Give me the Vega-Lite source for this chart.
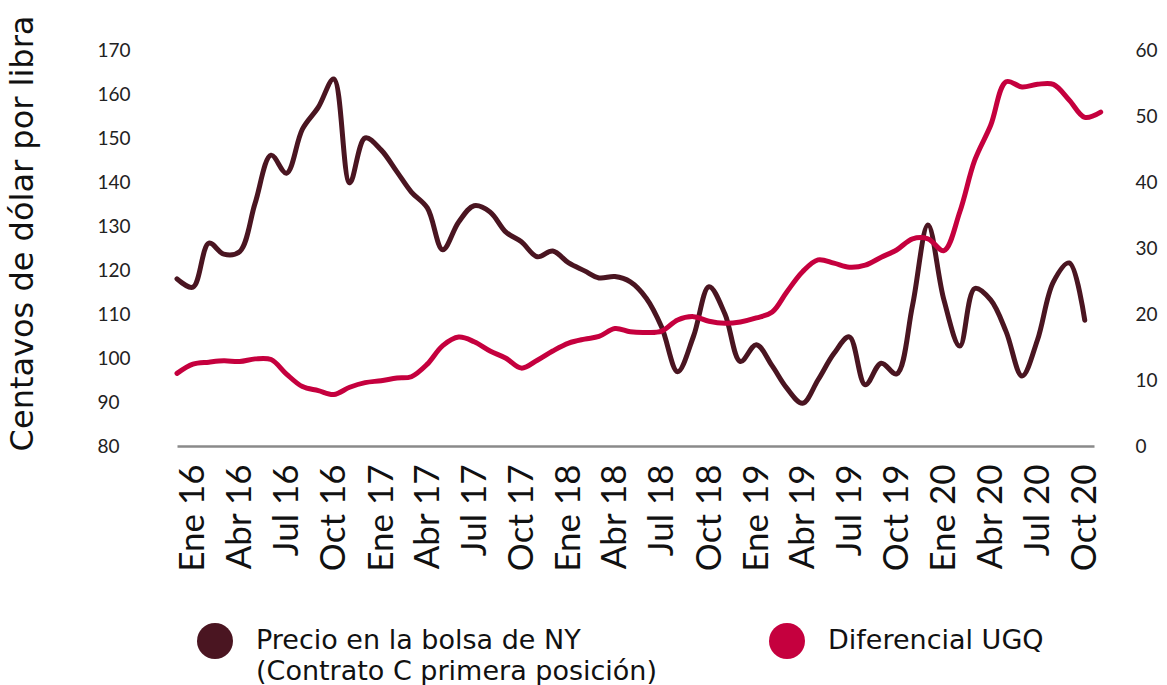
{
  "$schema": "https://vega.github.io/schema/vega-lite/v6.json",
  "autosize": {"type": "none"},
  "width": 917,
  "height": 396,
  "padding": {"left": 177, "top": 50, "right": 73, "bottom": 239},
  "background": "#ffffff",
  "config": {
    "view": {"stroke": null},
    "style": {"guide-label": {"lineHeight": 31}}
  },
  "data": {
    "values": [
      {"fecha": "2015-12-01", "precio": 118.0, "diferencial": 11.0},
      {"fecha": "2016-01-01", "precio": 116.1, "diferencial": 12.4},
      {"fecha": "2016-02-01", "precio": 126.1, "diferencial": 12.7},
      {"fecha": "2016-03-01", "precio": 123.6, "diferencial": 12.9},
      {"fecha": "2016-04-01", "precio": 124.2, "diferencial": 12.8},
      {"fecha": "2016-05-01", "precio": 135.2, "diferencial": 13.2},
      {"fecha": "2016-06-01", "precio": 146.1, "diferencial": 13.1},
      {"fecha": "2016-07-01", "precio": 142.0, "diferencial": 10.9},
      {"fecha": "2016-08-01", "precio": 152.0, "diferencial": 9.0},
      {"fecha": "2016-09-01", "precio": 157.0, "diferencial": 8.4},
      {"fecha": "2016-10-01", "precio": 163.4, "diferencial": 7.8},
      {"fecha": "2016-11-01", "precio": 139.8, "diferencial": 8.9},
      {"fecha": "2016-12-01", "precio": 150.0, "diferencial": 9.6},
      {"fecha": "2017-01-01", "precio": 147.3, "diferencial": 9.9},
      {"fecha": "2017-02-01", "precio": 142.3, "diferencial": 10.3},
      {"fecha": "2017-03-01", "precio": 137.7, "diferencial": 10.5},
      {"fecha": "2017-04-01", "precio": 134.1, "diferencial": 12.4},
      {"fecha": "2017-05-01", "precio": 124.6, "diferencial": 15.2},
      {"fecha": "2017-06-01", "precio": 130.9, "diferencial": 16.5},
      {"fecha": "2017-07-01", "precio": 134.6, "diferencial": 15.8},
      {"fecha": "2017-08-01", "precio": 133.2, "diferencial": 14.4},
      {"fecha": "2017-09-01", "precio": 128.6, "diferencial": 13.3},
      {"fecha": "2017-10-01", "precio": 126.4, "diferencial": 11.8},
      {"fecha": "2017-11-01", "precio": 123.0, "diferencial": 13.0},
      {"fecha": "2017-12-01", "precio": 124.3, "diferencial": 14.4},
      {"fecha": "2018-01-01", "precio": 121.6, "diferencial": 15.6},
      {"fecha": "2018-02-01", "precio": 119.8, "diferencial": 16.2},
      {"fecha": "2018-03-01", "precio": 118.2, "diferencial": 16.6},
      {"fecha": "2018-04-01", "precio": 118.5, "diferencial": 17.8},
      {"fecha": "2018-05-01", "precio": 117.3, "diferencial": 17.3},
      {"fecha": "2018-06-01", "precio": 113.6, "diferencial": 17.2},
      {"fecha": "2018-07-01", "precio": 107.0, "diferencial": 17.4},
      {"fecha": "2018-08-01", "precio": 96.9, "diferencial": 19.1},
      {"fecha": "2018-09-01", "precio": 105.0, "diferencial": 19.6},
      {"fecha": "2018-10-01", "precio": 116.2, "diferencial": 18.9},
      {"fecha": "2018-11-01", "precio": 110.0, "diferencial": 18.6},
      {"fecha": "2018-12-01", "precio": 99.2, "diferencial": 18.8},
      {"fecha": "2019-01-01", "precio": 103.0, "diferencial": 19.4},
      {"fecha": "2019-02-01", "precio": 98.2, "diferencial": 20.3},
      {"fecha": "2019-03-01", "precio": 93.2, "diferencial": 23.3},
      {"fecha": "2019-04-01", "precio": 89.7, "diferencial": 26.4},
      {"fecha": "2019-05-01", "precio": 95.0, "diferencial": 28.2},
      {"fecha": "2019-06-01", "precio": 101.0, "diferencial": 27.7},
      {"fecha": "2019-07-01", "precio": 104.8, "diferencial": 27.1},
      {"fecha": "2019-08-01", "precio": 93.9, "diferencial": 27.4},
      {"fecha": "2019-09-01", "precio": 98.8, "diferencial": 28.6},
      {"fecha": "2019-10-01", "precio": 96.4, "diferencial": 29.7},
      {"fecha": "2019-11-01", "precio": 112.0, "diferencial": 31.4},
      {"fecha": "2019-12-01", "precio": 130.2, "diferencial": 31.4},
      {"fecha": "2020-01-01", "precio": 113.2, "diferencial": 29.6},
      {"fecha": "2020-02-01", "precio": 102.7, "diferencial": 35.5},
      {"fecha": "2020-03-01", "precio": 115.8, "diferencial": 43.3},
      {"fecha": "2020-04-01", "precio": 113.2, "diferencial": 48.6},
      {"fecha": "2020-05-01", "precio": 106.0, "diferencial": 55.2},
      {"fecha": "2020-06-01", "precio": 95.9, "diferencial": 54.4},
      {"fecha": "2020-07-01", "precio": 104.1, "diferencial": 54.8},
      {"fecha": "2020-08-01", "precio": 117.3, "diferencial": 54.8},
      {"fecha": "2020-09-01", "precio": 121.6, "diferencial": 52.4},
      {"fecha": "2020-10-01", "precio": 108.6, "diferencial": 49.8},
      {"fecha": "2020-11-01", "precio": null, "diferencial": 50.6}
    ]
  },
  "encoding": {
    "x": {
      "field": "fecha",
      "type": "temporal",
      "scale": {"type": "utc", "domain": [1448928000000, 1603065600000]},
      "axis": {
        "title": null,
        "tickCount": {"interval": "month", "step": 3},
        "labelExpr": "['Ene','Abr','Jul','Oct'][floor(utcmonth(datum.value)/3)] + ' ' + utcFormat(datum.value, '%y')",
        "labelAngle": -90,
        "labelFont": "Lato",
        "labelFontSize": 35,
        "labelColor": "#111111",
        "labelPadding": 18,
        "labelOverlap": false,
        "labelFlush": false,
        "labelBound": false,
        "ticks": false,
        "tickSize": 0,
        "grid": false,
        "domain": true,
        "domainColor": "#8a8a8a",
        "domainWidth": 2.5
      }
    }
  },
  "layer": [
    {
      "mark": {"type": "line", "interpolate": "catmull-rom", "strokeWidth": 5, "strokeCap": "round", "strokeJoin": "round"},
      "encoding": {
        "y": {
          "field": "precio",
          "type": "quantitative",
          "scale": {"domain": [80, 170], "zero": false, "nice": false},
          "axis": {
            "orient": "left",
            "title": "Centavos de dólar por libra",
            "titleFont": "DejaVu Sans",
            "titleFontSize": 32,
            "titleFontWeight": "normal",
            "titleColor": "#111111",
            "titlePadding": 58,
            "titleY": 183,
            "values": [80, 90, 100, 110, 120, 130, 140, 150, 160, 170],
            "labelAlign": "left",
            "labelPadding": 80,
            "labelFont": "Lato",
            "labelFontSize": 19,
            "labelColor": "#222222",
            "ticks": false,
            "tickSize": 0,
            "domain": false,
            "grid": false
          }
        },
        "color": {
          "datum": "Precio en la bolsa de NY",
          "type": "nominal",
          "scale": {"domain": ["Precio en la bolsa de NY", "Diferencial UGQ"], "range": ["#4a1521", "#c5003e"]},
          "legend": {
            "orient": "none",
            "legendX": 20,
            "legendY": 573,
            "direction": "horizontal",
            "columns": 2,
            "columnPadding": 112,
            "title": null,
            "symbolType": "circle",
            "symbolSize": 1296,
            "symbolStrokeWidth": 0,
            "symbolOpacity": 1,
            "labelFont": "DejaVu Sans",
            "labelFontSize": 27,
            "labelColor": "#111111",
            "labelOffset": 23,
            "labelLimit": 700,
            "labelExpr": "datum.label == 'Precio en la bolsa de NY' ? ['Precio en la bolsa de NY', '(Contrato C primera posición)'] : [datum.label, ' ']",
            "encode": {
              "symbols": {"update": {"fill": {"scale": "color", "field": "value"}, "fillOpacity": {"value": 1}, "opacity": {"value": 1}}}
            }
          }
        }
      }
    },
    {
      "mark": {"type": "line", "interpolate": "catmull-rom", "strokeWidth": 5, "strokeCap": "round", "strokeJoin": "round"},
      "encoding": {
        "y": {
          "field": "diferencial",
          "type": "quantitative",
          "scale": {"domain": [0, 60], "nice": false},
          "axis": {
            "orient": "right",
            "title": null,
            "values": [0, 10, 20, 30, 40, 50, 60],
            "labelAlign": "left",
            "labelPadding": 41,
            "labelFont": "Lato",
            "labelFontSize": 19,
            "labelColor": "#222222",
            "ticks": false,
            "tickSize": 0,
            "domain": false,
            "grid": false
          }
        },
        "color": {"datum": "Diferencial UGQ", "type": "nominal"}
      }
    }
  ],
  "resolve": {"scale": {"y": "independent"}}
}
